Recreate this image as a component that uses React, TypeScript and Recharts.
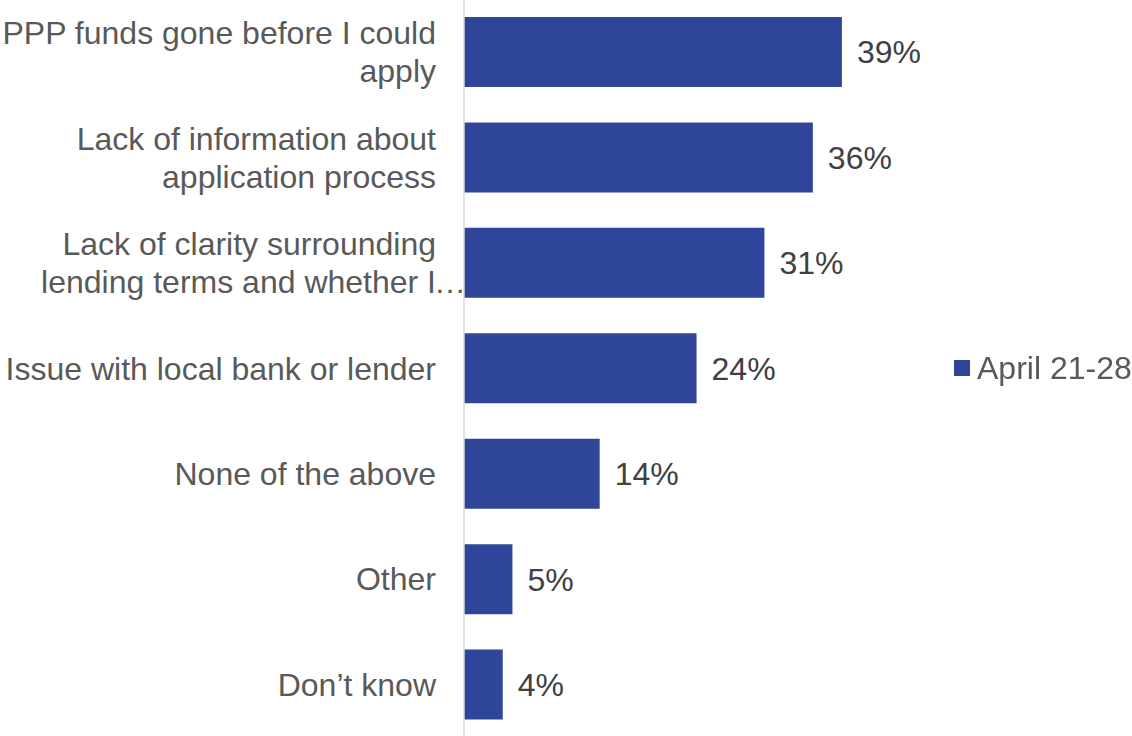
import React from "react";
import { BarChart, Bar, XAxis, YAxis, LabelList, Legend } from "recharts";

const categories = [
  "PPP funds gone before I could\napply",
  "Lack of information about\napplication process",
  "Lack of clarity surrounding\nlending terms and whether I\u2026",
  "Issue with local bank or lender",
  "None of the above",
  "Other",
  "Don\u2019t know",
];
const values = [39, 36, 31, 24, 14, 5, 4];
const seriesName = "April 21-28";

const data = categories.map((c, i) => ({ name: c, value: values[i] }));

const FONT = "'Liberation Sans', Arial, sans-serif";
const BAR_COLOR = "#2E4599";

const CategoryTick = (props: any) => {
  const { x, y, payload } = props;
  const lines: string[] = String(payload.value).split("\n");
  const lh = 38;
  const start = y + 11.5 - ((lines.length - 1) * lh) / 2;
  return (
    <g>
      {lines.map((l, i) => {
        const trunc = l.endsWith("\u2026");
        const body = trunc ? l.slice(0, -1) : l;
        return (
          <g key={i}>
            <text x={x} y={start + i * lh} textAnchor="end" fill="#595959" fontSize={32} fontFamily={FONT}>
              {body}
            </text>
            {trunc && (
              <text x={x - 2} y={start + i * lh} textAnchor="start" fill="#595959" fontSize={32} fontFamily={FONT}>
                {"\u2026"}
              </text>
            )}
          </g>
        );
      })}
    </g>
  );
};

const LegendContent = () => (
  <div style={{ display: "flex", alignItems: "center", height: 38, fontFamily: FONT, fontSize: 32, color: "#595959", whiteSpace: "nowrap" }}>
    <span style={{ display: "inline-block", width: 16, height: 16, background: BAR_COLOR, marginRight: 7 }} />
    <span>{seriesName}</span>
  </div>
);

export default function App() {
  return (
    <div style={{ position: "fixed", left: 0, top: -1, width: 1132, height: 738, background: "#fff" }}>
      <BarChart
        width={1132}
        height={738}
        data={data}
        layout="vertical"
        margin={{ top: 0, right: 183.5, bottom: 0, left: 0 }}
      >
        <XAxis type="number" domain={[0, 50]} hide />
        <YAxis
          type="category"
          dataKey="name"
          width={464}
          axisLine={{ stroke: "#D9D9D9", strokeWidth: 1.5 }}
          tickLine={false}
          tick={<CategoryTick />}
          tickMargin={22}
          interval={0}
        />
        <Legend
          layout="horizontal"
          align="center"
          verticalAlign="middle"
          content={<LegendContent />}
          wrapperStyle={{ left: 954, top: 350, width: 180, height: 38 }}
        />
        <Bar dataKey="value" name={seriesName} fill={BAR_COLOR} barSize={70} isAnimationActive={false}>
          <LabelList
            dataKey="value"
            position="right"
            offset={15}
            formatter={(v: any) => `${v}%`}
            fill="#404040"
            fontSize={32}
            fontFamily={FONT}
          />
        </Bar>
      </BarChart>
    </div>
  );
}
